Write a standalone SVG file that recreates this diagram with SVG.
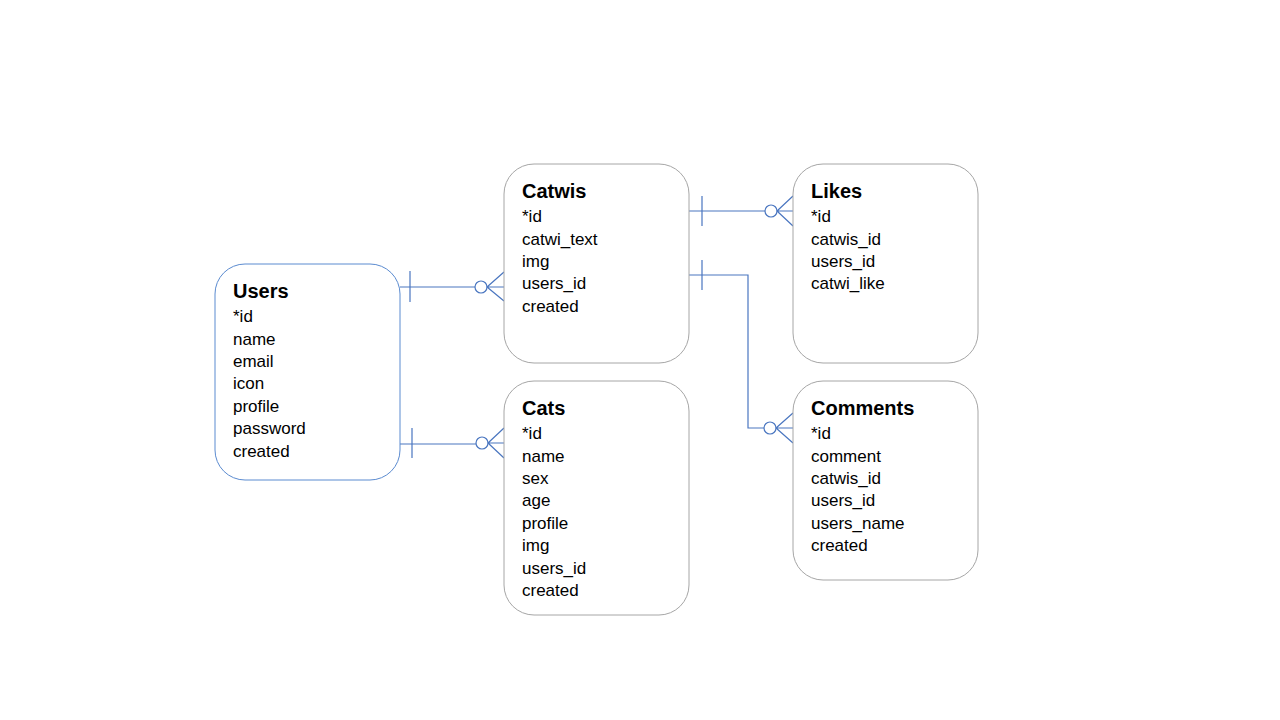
<svg xmlns="http://www.w3.org/2000/svg" width="1280" height="720" viewBox="0 0 1280 720">
<style>
.box{fill:#fff;stroke:#a6a6a6;stroke-width:1}
.blue{stroke:#5b8bd0}
.t{font-family:"Liberation Sans",Arial,sans-serif;font-size:20px;font-weight:bold;fill:#000}
.f{font-family:"Liberation Sans",Arial,sans-serif;font-size:17px;fill:#000}
.c{fill:none;stroke:#4a76c0;stroke-width:1.2}
</style>
<rect width="1280" height="720" fill="#fff"/>
<g id="connectors">
  <path class="c" d="M400 287 H475 M410 271 V302 M487 287 L504 272 M487 287 H504 M487 287 L504 301"/>
  <circle class="c" cx="481" cy="287" r="6"/>
  <path class="c" d="M400 444 H476 M412 428 V458 M488 443 L504 428 M488 443 H504 M488 443 L504 458"/>
  <circle class="c" cx="482" cy="443" r="6"/>
  <path class="c" d="M689 211 H765 M702 196 V226 M777 211 L793 196 M777 211 H793 M777 211 L793 226"/>
  <circle class="c" cx="771" cy="211" r="6"/>
  <path class="c" d="M689 275 H748 V428 H764 M702 260 V290 M776 428 L793 413 M776 428 H793 M776 428 L793 443"/>
  <circle class="c" cx="770" cy="428" r="6"/>
</g>
<g id="users">
  <rect class="box blue" x="215" y="264" width="185" height="216" rx="30"/>
  <text class="t" x="233" y="298">Users</text>
  <text class="f" x="233" y="322">*id</text>
  <text class="f" x="233" y="345">name</text>
  <text class="f" x="233" y="367">email</text>
  <text class="f" x="233" y="389">icon</text>
  <text class="f" x="233" y="412">profile</text>
  <text class="f" x="233" y="434">password</text>
  <text class="f" x="233" y="457">created</text>
</g>
<g id="catwis">
  <rect class="box" x="504" y="164" width="185" height="199" rx="30"/>
  <text class="t" x="522" y="198">Catwis</text>
  <text class="f" x="522" y="222">*id</text>
  <text class="f" x="522" y="245">catwi_text</text>
  <text class="f" x="522" y="267">img</text>
  <text class="f" x="522" y="289">users_id</text>
  <text class="f" x="522" y="312">created</text>
</g>
<g id="likes">
  <rect class="box" x="793" y="164" width="185" height="199" rx="30"/>
  <text class="t" x="811" y="198">Likes</text>
  <text class="f" x="811" y="222">*id</text>
  <text class="f" x="811" y="245">catwis_id</text>
  <text class="f" x="811" y="267">users_id</text>
  <text class="f" x="811" y="289">catwi_like</text>
</g>
<g id="cats">
  <rect class="box" x="504" y="381" width="185" height="234" rx="30"/>
  <text class="t" x="522" y="415">Cats</text>
  <text class="f" x="522" y="439">*id</text>
  <text class="f" x="522" y="462">name</text>
  <text class="f" x="522" y="484">sex</text>
  <text class="f" x="522" y="506">age</text>
  <text class="f" x="522" y="529">profile</text>
  <text class="f" x="522" y="551">img</text>
  <text class="f" x="522" y="574">users_id</text>
  <text class="f" x="522" y="596">created</text>
</g>
<g id="comments">
  <rect class="box" x="793" y="381" width="185" height="199" rx="30"/>
  <text class="t" x="811" y="415">Comments</text>
  <text class="f" x="811" y="439">*id</text>
  <text class="f" x="811" y="462">comment</text>
  <text class="f" x="811" y="484">catwis_id</text>
  <text class="f" x="811" y="506">users_id</text>
  <text class="f" x="811" y="529">users_name</text>
  <text class="f" x="811" y="551">created</text>
</g>
</svg>
